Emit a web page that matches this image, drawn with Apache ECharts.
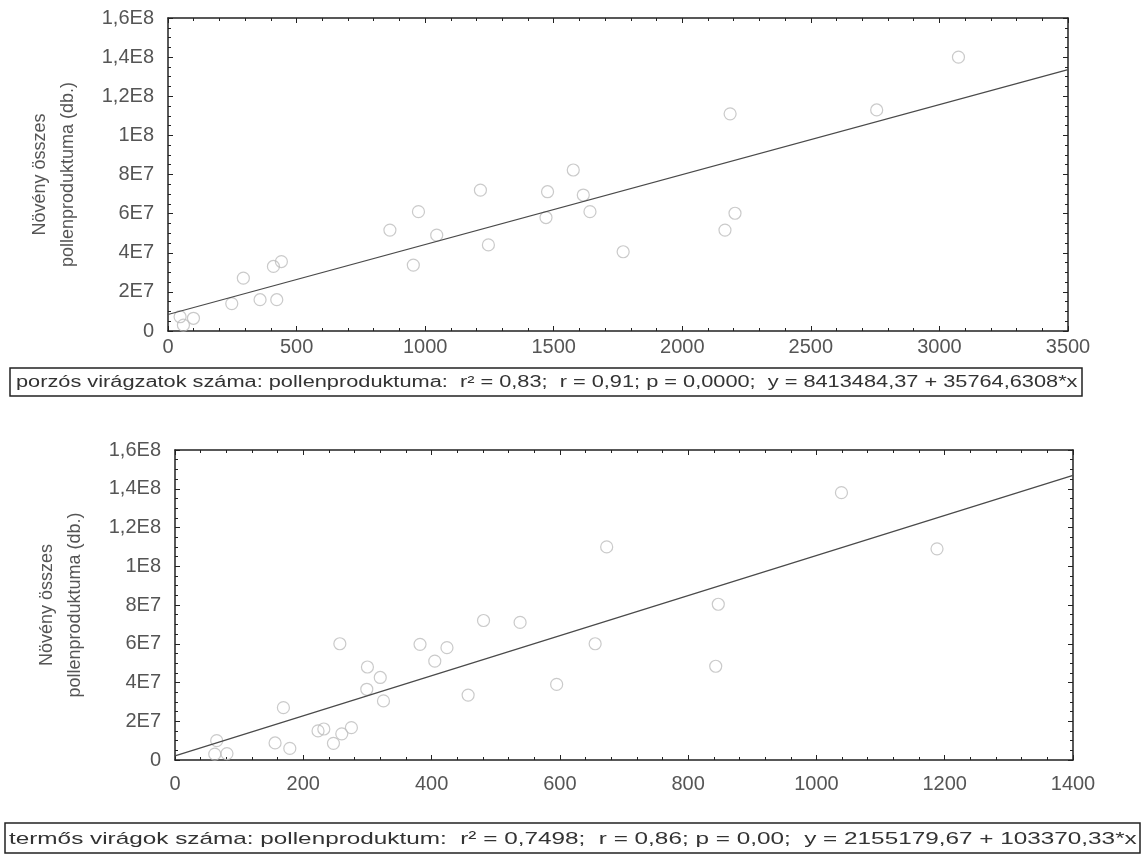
<!DOCTYPE html>
<html>
<head>
<meta charset="utf-8">
<script src="https://cdn.jsdelivr.net/npm/echarts@6/dist/echarts.min.js"></script>
<style>
html,body{margin:0;padding:0;background:#fff;}
#c{width:1144px;height:863px;}
</style>
</head>
<body>
<div id="c"></div>
<script>
// ---- data ----
var yTickValues = [0, 2e7, 4e7, 6e7, 8e7, 1e8, 1.2e8, 1.4e8, 1.6e8];
var yTickLabels = ['0', '2E7', '4E7', '6E7', '8E7', '1E8', '1,2E8', '1,4E8', '1,6E8'];
var yAxisTitle = 'Növény összes\npollenproduktuma (db.)';

// top: porzós virágzatok száma (x) vs pollenproduktum (y, millions)
var topX = [47, 99, 60, 248, 293, 358, 410, 441, 423, 863, 954, 974, 1045, 1215, 1246, 1476, 1470, 1576, 1615, 1641, 1770, 2166, 2205, 2186, 2756, 3074];
var topY = [7.3, 6.5, 3, 14, 27, 16, 33, 35.5, 16, 51.6, 33.7, 61, 49, 72, 44, 71.2, 58, 82.3, 69.5, 61, 40.5, 51.6, 60.2, 111, 113, 140];
var topIntercept = 8413484.37, topSlope = 35764.6308, topXMax = 3500;
var topCaption = 'porzós virágzatok száma: pollenproduktuma:  r² = 0,83;  r = 0,91; p = 0,0000;  y = 8413484,37 + 35764,6308*x';

// bottom: termős virágok száma (x) vs pollenproduktum (y, millions)
var botX = [62, 81, 65, 156, 169, 179, 223, 232, 247, 260, 275, 257, 300, 320, 299, 325, 382, 405, 424, 457, 481, 538, 595, 655, 673, 843, 847, 1039, 1188];
var botY = [3, 3.3, 10, 8.8, 27, 6, 15, 16, 8.6, 13.5, 16.7, 60, 48, 42.6, 36.5, 30.5, 59.7, 51, 58, 33.5, 72, 71, 39, 60, 110, 48.4, 80.4, 138, 109];
var botIntercept = 2155179.67, botSlope = 103370.33, botXMax = 1400;
var botCaption = 'termős virágok száma: pollenproduktum:  r² = 0,7498;  r = 0,86; p = 0,00;  y = 2155179,67 + 103370,33*x';

// ---- build ----
var chart = echarts.init(document.getElementById('c'));
var FONT = 'Liberation Sans, Arial, sans-serif';
var TXT = '#555555';

function pts(xs, ys) { return xs.map(function (x, i) { return [x, ys[i] * 1e6]; }); }
function fitLine(a, b, xmax) { return [[0, a], [xmax, a + b * xmax]]; }
function yFmt(v) { var i = yTickValues.indexOf(v); return i >= 0 ? yTickLabels[i] : ''; }
function xFmt(v) { return String(v); }

function xAxisPair(grid, max, interval, margin) {
  return [
    { type: 'value', gridIndex: grid, min: 0, max: max, interval: interval,
      axisLine: { show: true, onZero: false, lineStyle: { color: '#222', width: 1.5 } },
      axisTick: { show: true, inside: true, length: 5, lineStyle: { color: '#222' } },
      minorTick: { show: true, splitNumber: 5, length: 3, lineStyle: { color: '#222' } },
      splitLine: { show: false },
      axisLabel: { color: TXT, fontSize: 20, fontFamily: FONT, margin: margin, formatter: xFmt } },
    { type: 'value', gridIndex: grid, position: 'top', min: 0, max: max, interval: interval,
      axisLine: { show: true, onZero: false, lineStyle: { color: '#222', width: 1.5 } },
      axisTick: { show: true, inside: true, length: 5, lineStyle: { color: '#222' } },
      minorTick: { show: true, splitNumber: 5, length: 3, lineStyle: { color: '#222' } },
      splitLine: { show: false }, axisLabel: { show: false } }
  ];
}
function yAxisPair(grid) {
  return [
    { type: 'value', gridIndex: grid, min: 0, max: 1.6e8, interval: 2e7,
      name: yAxisTitle, nameLocation: 'middle', nameGap: 86, nameRotate: 90,
      nameTextStyle: { color: TXT, fontSize: 18, fontFamily: FONT, lineHeight: 28, align: 'center' },
      axisLine: { show: true, onZero: false, lineStyle: { color: '#222', width: 1.5 } },
      axisTick: { show: true, inside: true, length: 5, lineStyle: { color: '#222' } },
      minorTick: { show: true, splitNumber: 4, length: 3, lineStyle: { color: '#222' } },
      splitLine: { show: false },
      axisLabel: { color: TXT, fontSize: 20, fontFamily: FONT, margin: 14, formatter: yFmt } },
    { type: 'value', gridIndex: grid, position: 'right', min: 0, max: 1.6e8, interval: 2e7,
      axisLine: { show: true, onZero: false, lineStyle: { color: '#222', width: 1.5 } },
      axisTick: { show: true, inside: true, length: 5, lineStyle: { color: '#222' } },
      minorTick: { show: true, splitNumber: 4, length: 3, lineStyle: { color: '#222' } },
      splitLine: { show: false }, axisLabel: { show: false } }
  ];
}

var scatterStyle = { color: 'rgba(255,255,255,0)', borderColor: '#bdbdbd', borderWidth: 1.2 };

var option = {
  backgroundColor: '#fff',
  animation: false,
  grid: [
    { left: 168, top: 18, width: 900, height: 313 },
    { left: 175, top: 450, width: 898, height: 310 }
  ],
  xAxis: xAxisPair(0, 3500, 500, 6).concat(xAxisPair(1, 1400, 200, 14)),
  yAxis: yAxisPair(0).concat(yAxisPair(1)),
  series: [
    { type: 'scatter', xAxisIndex: 0, yAxisIndex: 0, data: pts(topX, topY), symbol: 'circle', symbolSize: 12, itemStyle: scatterStyle, z: 2 },
    { type: 'line', xAxisIndex: 0, yAxisIndex: 0, data: fitLine(topIntercept, topSlope, topXMax), showSymbol: false, symbol: 'none', lineStyle: { color: '#4a4a4a', width: 1.2 }, z: 3 },
    { type: 'scatter', xAxisIndex: 2, yAxisIndex: 2, data: pts(botX, botY), symbol: 'circle', symbolSize: 12, itemStyle: scatterStyle, z: 2 },
    { type: 'line', xAxisIndex: 2, yAxisIndex: 2, data: fitLine(botIntercept, botSlope, botXMax), showSymbol: false, symbol: 'none', lineStyle: { color: '#4a4a4a', width: 1.2 }, z: 3 }
  ],
  graphic: [
    { type: 'rect', shape: { x: 10, y: 368, width: 1072, height: 28 }, style: { fill: '#fff', stroke: '#222', lineWidth: 1.5 } },
    { type: 'text', x: 16, y: 383, scaleX: 1.36, style: { text: topCaption, fill: '#333', font: '16px ' + FONT, verticalAlign: 'middle' } },
    { type: 'rect', shape: { x: 5, y: 823, width: 1135, height: 30 }, style: { fill: '#fff', stroke: '#222', lineWidth: 1.5 } },
    { type: 'text', x: 9, y: 839, scaleX: 1.43, style: { text: botCaption, fill: '#333', font: '17px ' + FONT, verticalAlign: 'middle' } }
  ]
};
chart.setOption(option);
</script>
</body>
</html>
